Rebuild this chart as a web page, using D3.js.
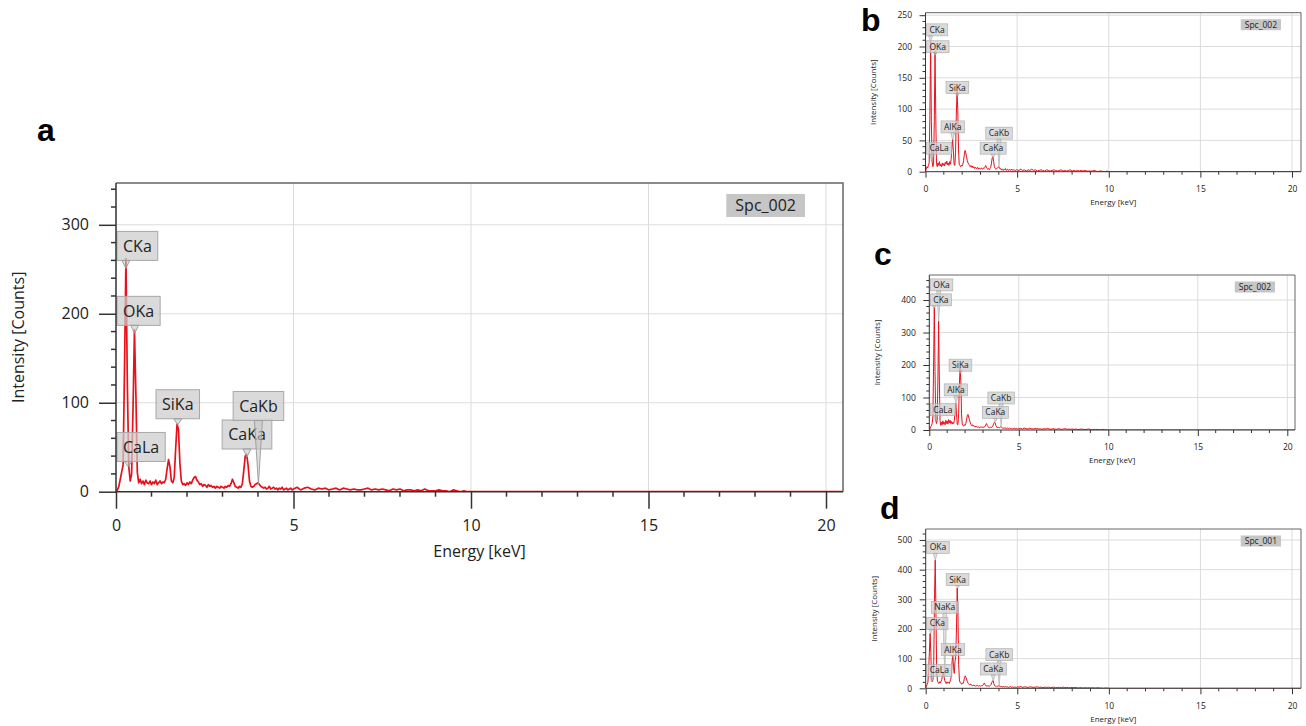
<!DOCTYPE html>
<html>
<head>
<meta charset="utf-8">
<script src="https://cdn.jsdelivr.net/npm/d3@7/dist/d3.min.js"></script>
<style>
  body { margin: 0; background: #fff; }
  svg { display: block; }
  text { font-family: "Open Sans", "Noto Sans", sans-serif; fill: #222; }
</style>
</head>
<body>
<div id="chart"></div>
<script>
// EDS spectra, four panels (a large, b/c/d small)

// channel layout: 0-4.96 keV every 0.04, 5-9.9 every 0.1, 10-20.5 every 0.5
const lowStep = 0.04, midStart = 5, midStep = 0.1, highStart = 10, highStep = 0.5;

const countsA_low = [0,2,6,14,22,30,140,262,120,28,12,20,95,182,110,22,10,14,9,12,
  8,13,10,9,12,8,11,9,13,8,10,12,9,11,10,14,26,36,28,12,
  10,16,48,76,70,32,12,8,9,7,10,8,11,9,13,16,17,13,11,8,
  9,6,8,7,5,8,6,7,5,6,4,6,5,4,6,5,4,6,5,7,
  6,9,14,10,6,5,4,6,5,9,24,40,42,30,12,6,5,6,8,9,
  10,8,6,5,4,5,3,4,6,3,4,5,3,4,2,4,3,5,2,3,4,2,3,4,2];
const countsA_mid = [3,5,2,4,5,3,2,4,3,4, 2,3,4,2,4,3,2,3,2,2, 3,4,2,3,2,3,2,1,3,2,
  3,1,2,2,1,2,1,3,1,1, 1,2,1,1,0,2,1,0,1,0];
const countsA_high = [0,0,0,0,0,0,0,0,0,0,0,0,0,0,0,0,0,0,0,0,0,0];

const countsB_low = [0,4,8,6,10,14,90,208,80,16,8,12,80,192,90,14,8,14,10,16,
  9,12,8,14,10,13,9,15,12,17,11,14,10,16,12,20,38,52,34,12,
  10,30,90,128,100,36,12,10,8,10,9,12,18,28,34,30,24,18,14,12,
  10,8,10,7,9,6,8,5,7,6,5,7,4,6,5,4,6,5,4,6,
  5,7,10,8,5,4,5,3,5,7,14,22,24,16,8,5,4,5,6,7,
  8,6,4,5,3,4,2,4,3,5,2,3,4,2,3,4,2,3,4,2,3,2,3,2,3];
const countsB_mid = [3,2,4,2,3,1,3,2,4,2, 3,1,2,3,2,1,3,2,1,2, 3,2,1,2,3,1,2,1,2,3,
  1,2,1,2,1,2,1,2,1,1, 1,1,2,1,0,1,1,0,0,1];
const countsB_high = [0,0,0,0,0,0,0,0,0,0,0,0,0,0,0,0,0,0,0,0,0,0];

const countsC_low = [0,4,10,14,20,40,200,378,180,30,20,30,150,335,160,30,14,24,16,28,
  18,24,16,30,20,28,18,32,22,30,20,26,18,24,20,30,56,82,50,18,
  16,50,140,192,150,50,18,14,12,16,14,20,30,44,48,40,32,24,18,14,
  16,12,14,10,12,9,11,8,10,9,7,10,8,9,7,10,8,9,12,16,
  20,14,10,8,7,8,9,8,10,14,20,24,22,14,9,8,7,8,7,9,
  10,8,6,7,5,6,5,7,4,6,5,4,6,5,4,5,3,5,4,6,3,4,5,3,4];
const countsC_mid = [4,5,3,6,4,3,5,4,3,4, 5,3,4,2,4,3,5,3,2,4, 3,2,4,3,2,3,4,2,3,2,
  3,2,3,1,2,3,2,1,2,3, 2,1,2,1,2,1,1,2,1,1];
const countsC_high = [0,0,0,0,0,0,0,0,0,0,0,0,0,0,0,0,0,0,0,0,0,0];

const countsD_low = [0,6,14,20,60,120,185,120,30,22,30,90,300,432,250,60,24,20,16,22,
  18,24,30,46,52,40,26,20,16,22,18,20,16,22,30,40,90,112,70,50,
  90,108,200,338,260,80,28,20,16,14,18,16,24,36,42,36,28,22,16,14,
  12,14,10,12,9,11,8,10,7,9,8,10,7,9,8,7,9,8,10,14,
  18,13,9,8,7,9,8,7,9,12,18,24,26,16,9,7,8,6,7,8,
  9,7,6,5,7,4,6,5,4,6,5,4,5,3,5,4,6,3,4,5,3,4,3,4,3];
const countsD_mid = [5,4,6,3,5,4,3,5,4,3, 4,5,3,4,2,4,3,4,2,3, 4,2,3,3,2,4,2,3,2,2,
  3,2,3,1,2,2,1,2,1,2, 1,2,1,1,2,1,1,0,1,1];
const countsD_high = [0,0,0,0,0,0,0,0,0,0,0,0,0,0,0,0,0,0,0,0,0,0];

// X-ray line energies [keV]
const lineEnergy = { CKa: 0.277, CaLa: 0.341, OKa: 0.525, NaKa: 1.041, AlKa: 1.486,
  SiKa: 1.740, CaKa: 3.690, CaKb: 4.012 };

// peak labels: name, label box bottom level [counts], pointer tip [counts]
const labelsA = ['CKa', 'OKa', 'SiKa', 'CaLa', 'CaKa', 'CaKb'];
const boxA    = [260, 187, 82, 34, 48, 80];
const tipA    = [251, 178, 75, 28, 39, 8];

const labelsB = ['CKa', 'OKa', 'SiKa', 'AlKa', 'CaKb', 'CaKa', 'CaLa'];
const boxB    = [217, 190, 125, 62, 52, 28, 28];
const tipB    = [208, 186, 120, 50, 8, 22, 15];

const labelsC = ['OKa', 'CKa', 'SiKa', 'AlKa', 'CaLa', 'CaKb', 'CaKa'];
const boxC    = [428, 382, 181, 105, 44, 80, 36];
const tipC    = [335, 375, 175, 82, 30, 10, 24];

const labelsD = ['OKa', 'SiKa', 'NaKa', 'CKa', 'AlKa', 'CaKb', 'CaKa', 'CaLa'];
const boxD    = [455, 346, 253, 199, 110, 93, 45, 40];
const tipD    = [432, 338, 40, 185, 105, 8, 25, 22];

const xTicksMajor = [0, 5, 10, 15, 20];

function makeSpectrum(low, mid, high) {
  const pts = [];
  low.forEach((c, i) => pts.push([i * lowStep, c]));
  mid.forEach((c, i) => pts.push([midStart + i * midStep, c]));
  high.forEach((c, i) => pts.push([highStart + i * highStep, c]));
  return pts;
}

const panels = [
  { letter: 'a', lx: 37, ly: 141, left: 116, x20: 826, right: 843, top: 183, y0: 491.7, yMax: 347,
    yMajor: 100, yMinor: 20, tag: 'Spc_002',
    spec: makeSpectrum(countsA_low, countsA_mid, countsA_high),
    names: labelsA, box: boxA, tip: tipA, big: true },
  { letter: 'b', lx: 861, ly: 31, left: 925.5, x20: 1292, right: 1301, top: 12.7, y0: 171.7, yMax: 254,
    yMajor: 50, yMinor: 10, tag: 'Spc_002',
    spec: makeSpectrum(countsB_low, countsB_mid, countsB_high),
    names: labelsB, box: boxB, tip: tipB, big: false },
  { letter: 'c', lx: 874, ly: 265, left: 929.3, x20: 1287.3, right: 1295, top: 275, y0: 430, yMax: 477,
    yMajor: 100, yMinor: 20, tag: 'Spc_002',
    spec: makeSpectrum(countsC_low, countsC_mid, countsC_high),
    names: labelsC, box: boxC, tip: tipC, big: false },
  { letter: 'd', lx: 880, ly: 519, left: 925.7, x20: 1292, right: 1301, top: 529, y0: 688.3, yMax: 537,
    yMajor: 100, yMinor: 20, tag: 'Spc_001',
    spec: makeSpectrum(countsD_low, countsD_mid, countsD_high),
    names: labelsD, box: boxD, tip: tipD, big: false }
];

const svg = d3.select('#chart').append('svg')
  .attr('width', 1306)
  .attr('height', 726);

panels.forEach((p, k) => {
  const s = p.big ? {
    font: 16, title: 16, majorLen: 17, minorLen: 5, yLabGap: 27, xLabOff: 36,
    yTitleOff: 98, xTitleOff: 60, lw: 1.7, boxH: 29, pad: 6, ptr: 4, tagH: 23, tagR: 38, tagT: 11, axisW: 1.5
  } : {
    font: 8.5, title: 8, majorLen: 6, minorLen: 3, yLabGap: 13.5, xLabOff: 18.5,
    yTitleOff: 52, xTitleOff: 30.5, lw: 1, boxH: 12, pad: 3, ptr: 2, tagH: 11, tagR: 20, tagT: 6.5, axisW: 1
  };

  const x = d3.scaleLinear().domain([0, 20]).range([p.left, p.x20]);
  const y = d3.scaleLinear().domain([0, p.yMax]).range([p.y0, p.top]);
  const g = svg.append('g');

  const clipId = 'clip' + k;
  g.append('clipPath').attr('id', clipId)
    .append('rect')
    .attr('x', p.left).attr('y', p.top)
    .attr('width', p.right - p.left).attr('height', p.y0 - p.top);

  // grid
  const yMajors = d3.range(p.yMajor, p.yMax, p.yMajor);
  g.selectAll('line.gy').data(yMajors).enter().append('line')
    .attr('x1', p.left).attr('x2', p.right)
    .attr('y1', d => y(d)).attr('y2', d => y(d))
    .attr('stroke', '#dcdcdc').attr('stroke-width', 1);
  g.selectAll('line.gx').data(xTicksMajor.slice(1)).enter().append('line')
    .attr('x1', d => x(d)).attr('x2', d => x(d))
    .attr('y1', p.top).attr('y2', p.y0)
    .attr('stroke', '#dcdcdc').attr('stroke-width', 1);

  // spectrum
  const line = d3.line().x(d => x(d[0])).y(d => y(d[1]));
  g.append('path')
    .datum(p.spec)
    .attr('clip-path', `url(#${clipId})`)
    .attr('d', line)
    .attr('fill', 'none')
    .attr('stroke', '#e8101a')
    .attr('stroke-width', s.lw)
    .attr('stroke-linejoin', 'round');

  // peak labels
  p.names.forEach((name, i) => {
    const px = x(lineEnergy[name]);
    const bb = y(p.box[i]);
    const lab = g.append('g');
    const txt = lab.append('text')
      .attr('font-size', s.font)
      .attr('text-anchor', 'middle')
      .text(name);
    const w = txt.node().getComputedTextLength() + 2 * s.pad;
    let bx = px - w / 2;
    if (bx < p.left + 1) bx = p.left + 1;
    lab.insert('rect', 'text')
      .attr('x', bx).attr('y', bb - s.boxH)
      .attr('width', w).attr('height', s.boxH)
      .attr('fill', 'rgba(204,204,204,0.72)')
      .attr('stroke', '#a8a8a8').attr('stroke-width', p.big ? 1 : 0.6);
    txt.attr('x', bx + w / 2).attr('y', bb - s.boxH / 2).attr('dy', '0.36em');
    lab.append('path')
      .attr('d', `M${px - s.ptr},${bb} L${px + s.ptr},${bb} L${px},${y(p.tip[i])} Z`)
      .attr('fill', 'rgba(200,200,200,0.6)')
      .attr('stroke', '#9a9a9a').attr('stroke-width', p.big ? 0.9 : 0.5);
  });

  // spectrum tag
  const tag = g.append('text')
    .attr('font-size', s.font)
    .attr('text-anchor', 'middle')
    .text(p.tag);
  const tw = tag.node().getComputedTextLength() + 2 * (s.pad + (p.big ? 3 : 1));
  const tx = p.right - s.tagR - tw;
  const ty = p.top + s.tagT;
  g.insert('rect', () => tag.node())
    .attr('x', tx).attr('y', ty).attr('width', tw).attr('height', s.tagH)
    .attr('fill', '#c6c6c6');
  tag.attr('x', tx + tw / 2).attr('y', ty + s.tagH / 2).attr('dy', '0.36em');

  // frame: top + right
  g.append('path')
    .attr('d', `M${p.left},${p.top} H${p.right} V${p.y0}`)
    .attr('fill', 'none').attr('stroke', '#666').attr('stroke-width', s.axisW);

  // y axis
  const yAxis = d3.axisLeft(y)
    .tickValues(d3.range(0, p.yMax, p.yMajor))
    .tickSize(s.majorLen).tickPadding(s.yLabGap - s.majorLen);
  const ya = g.append('g').attr('transform', `translate(${p.left},0)`).call(yAxis);
  ya.select('.domain').remove();
  ya.selectAll('.tick line').attr('stroke', '#333').attr('stroke-width', s.axisW);
  ya.selectAll('.tick text').attr('font-size', s.font).attr('font-family', null).attr('fill', '#222');
  const yMinors = d3.range(0, p.yMax, p.yMinor).filter(v => v % p.yMajor !== 0);
  g.selectAll('line.my').data(yMinors).enter().append('line')
    .attr('x1', p.left - s.minorLen).attr('x2', p.left)
    .attr('y1', d => y(d)).attr('y2', d => y(d))
    .attr('stroke', '#333').attr('stroke-width', s.axisW);

  // x axis
  const xAxis = d3.axisBottom(x)
    .tickValues(xTicksMajor)
    .tickSize(s.majorLen).tickPadding(s.xLabOff - s.majorLen - s.font * 0.5);
  const xa = g.append('g').attr('transform', `translate(0,${p.y0})`).call(xAxis);
  xa.select('.domain').remove();
  xa.selectAll('.tick line').attr('stroke', '#333').attr('stroke-width', s.axisW);
  xa.selectAll('.tick text').attr('font-size', s.font).attr('font-family', null).attr('fill', '#222');
  const xMinors = d3.range(1, 20.5, 1).filter(v => v % 5 !== 0);
  g.selectAll('line.mx').data(xMinors).enter().append('line')
    .attr('x1', d => x(d)).attr('x2', d => x(d))
    .attr('y1', p.y0).attr('y2', p.y0 + s.minorLen)
    .attr('stroke', '#333').attr('stroke-width', s.axisW);

  // axis lines
  g.append('path')
    .attr('d', `M${p.left},${p.top} V${p.y0} H${p.right}`)
    .attr('fill', 'none').attr('stroke', '#333').attr('stroke-width', s.axisW);

  // titles
  g.append('text')
    .attr('font-size', s.title)
    .attr('text-anchor', 'middle')
    .attr('transform', `translate(${p.left - s.yTitleOff},${(p.top + p.y0) / 2}) rotate(-90)`)
    .attr('dy', '0.36em')
    .text('Intensity [Counts]');
  g.append('text')
    .attr('font-size', s.title)
    .attr('text-anchor', 'middle')
    .attr('x', (p.left + p.right) / 2)
    .attr('y', p.y0 + s.xTitleOff)
    .attr('dy', '0.36em')
    .text('Energy [keV]');

  // panel letter
  svg.append('text')
    .attr('x', p.lx).attr('y', p.ly)
    .attr('font-size', 32)
    .attr('font-weight', 'bold')
    .style('font-family', '"Liberation Sans", Arial, sans-serif')
    .style('fill', '#000')
    .text(p.letter);
});
</script>
</body>
</html>
